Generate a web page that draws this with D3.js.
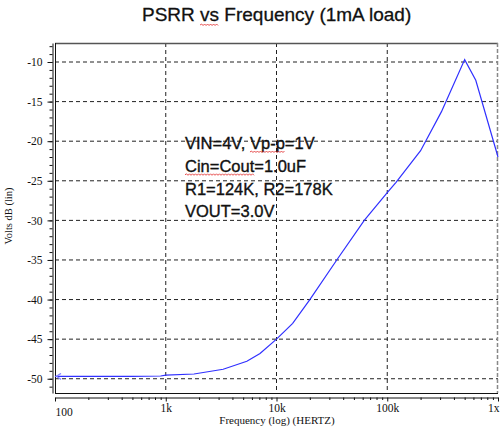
<!DOCTYPE html>
<html>
<head>
<meta charset="utf-8">
<script src="https://cdn.jsdelivr.net/npm/d3@7"></script>
<style>
  body { margin: 0; background: #fff; }
  svg { display: block; }
</style>
</head>
<body>
<div id="chart"></div>
<script>
// data
const freqs = [100, 200, 500, 900, 1000, 1800, 3300, 5400, 7100, 10000,
  14000, 20000, 35000, 62000, 100000, 120000, 200000, 308000, 500000, 630000, 1000000];
const psrr = [-49.7, -49.7, -49.7, -49.65, -49.55, -49.4, -48.8, -47.8, -46.8, -45.0,
  -43.0, -40.0, -35.0, -30.0, -26.5, -25.2, -21.2, -16.3, -9.7, -12.3, -22.0];
const yMajor = [-50, -45, -40, -35, -30, -25, -20, -15, -10];
const xMajor = [100, 1000, 10000, 100000, 1000000];
const xLabels = ["100", "1k", "10k", "100k", "1x"];
const notes = ["VIN=4V, Vp-p=1V", "Cin=Cout=1.0uF", "R1=124K, R2=178K", "VOUT=3.0V"];

const W = 500, H = 430;
const plot = { left: 55, right: 498, top: 43, bottom: 393 };

const svg = d3.select("#chart").append("svg")
  .attr("width", W).attr("height", H);

const x = d3.scaleLog().domain([100, 1e6]).range([plot.left, plot.right]);
const y = d3.scaleLinear().domain([-51.8, -7.6]).range([plot.bottom, plot.top]);

// title
const title = svg.append("text")
  .attr("x", 142).attr("y", 21)
  .attr("font-family", "Liberation Sans, Arial, sans-serif")
  .attr("font-size", 19)
  .attr("fill", "#111")
  .attr("stroke", "#111").attr("stroke-width", 0.3)
  .text("PSRR vs Frequency (1mA load)");

// grid
const grid = svg.append("g").attr("stroke", "#222").attr("stroke-dasharray", "4,3");
grid.selectAll("line.h").data(yMajor).enter().append("line")
  .attr("x1", plot.left).attr("x2", plot.right)
  .attr("y1", d => y(d)).attr("y2", d => y(d));
grid.selectAll("line.v").data(xMajor.slice(1, 4)).enter().append("line")
  .attr("x1", d => x(d)).attr("x2", d => x(d))
  .attr("y1", plot.top).attr("y2", plot.bottom);

// frame
svg.append("line").attr("x1", plot.left).attr("x2", plot.right)
  .attr("y1", plot.top + 0.5).attr("y2", plot.top + 0.5).attr("stroke", "#555").attr("stroke-width", 1.5);
svg.append("line").attr("x1", plot.left).attr("x2", plot.right)
  .attr("y1", plot.bottom + 0.5).attr("y2", plot.bottom + 0.5).attr("stroke", "#111");
svg.append("line").attr("x1", plot.left + 0.5).attr("x2", plot.left + 0.5)
  .attr("y1", plot.top).attr("y2", plot.bottom).attr("stroke", "#111");
svg.append("line").attr("x1", plot.right - 0.5).attr("x2", plot.right - 0.5)
  .attr("y1", plot.top).attr("y2", plot.bottom)
  .attr("stroke", "#888").attr("stroke-width", 1.5).attr("stroke-dasharray", "4,2");

// y axis
const yAxis = svg.append("g")
  .attr("transform", "translate(52.5,0)")
  .call(d3.axisLeft(y).tickValues(yMajor).tickSize(5).tickSizeOuter(0).tickFormat(d => String(d)));
yAxis.select(".domain").attr("stroke", "#111");
yAxis.selectAll(".tick line").attr("stroke", "#111");
yAxis.selectAll("text")
  .attr("font-family", "Liberation Serif, Times New Roman, serif")
  .attr("font-size", 11.5).attr("fill", "#111").attr("x", -10);
yAxis.selectAll("line.minor").data(d3.range(-51, -7)).enter().append("line")
  .attr("class", "minor")
  .attr("x1", -3).attr("x2", 0)
  .attr("y1", d => y(d) + 0.5).attr("y2", d => y(d) + 0.5)
  .attr("stroke", "#111");

// x axis
const minors = [];
xMajor.slice(0, 4).forEach(dec => { for (let k = 2; k < 10; k++) minors.push(dec * k); });
const xAxis = svg.append("g")
  .attr("transform", "translate(0,397.5)")
  .call(d3.axisBottom(x).tickValues(xMajor).tickSize(4).tickSizeOuter(0)
    .tickFormat((d, i) => xLabels[i]));
xAxis.select(".domain").attr("stroke", "#111");
xAxis.selectAll(".tick line").attr("stroke", "#111");
xAxis.selectAll("text")
  .attr("font-family", "Liberation Serif, Times New Roman, serif")
  .attr("font-size", 11.5).attr("fill", "#111").attr("y", 6);
xAxis.selectAll(".tick").filter(d => d === 100).select("text")
  .attr("text-anchor", "start").attr("x", 0).attr("y", 10);
xAxis.selectAll(".tick").filter(d => d === 1e6).select("text")
  .attr("text-anchor", "end").attr("x", 1);
xAxis.selectAll("line.minor").data(minors).enter().append("line")
  .attr("class", "minor")
  .attr("x1", d => x(d) + 0.5).attr("x2", d => x(d) + 0.5)
  .attr("y1", 0).attr("y2", 2.5)
  .attr("stroke", "#111");

// axis titles
svg.append("text")
  .attr("x", 277).attr("y", 424)
  .attr("text-anchor", "middle")
  .attr("font-family", "Liberation Serif, Times New Roman, serif")
  .attr("font-size", 11).attr("fill", "#111")
  .text("Frequency (log) (HERTZ)");
svg.append("text")
  .attr("transform", "translate(12,216) rotate(-90)")
  .attr("text-anchor", "middle")
  .attr("font-family", "Liberation Serif, Times New Roman, serif")
  .attr("font-size", 10.5).attr("fill", "#111")
  .text("Volts dB (lin)");

// annotation block
const noteG = svg.append("g")
  .attr("font-family", "Liberation Sans, Arial, sans-serif")
  .attr("font-size", 16.5).attr("fill", "#111")
  .attr("stroke", "#111").attr("stroke-width", 0.35);
const noteText = noteG.selectAll("text").data(notes).enter().append("text")
  .attr("x", 185).attr("y", (d, i) => 149 + i * 22.8)
  .text(d => d);

// curve
svg.append("defs").append("marker")
  .attr("id", "tip").attr("viewBox", "0 0 6 6")
  .attr("refX", 0).attr("refY", 3)
  .attr("markerWidth", 6).attr("markerHeight", 6)
  .attr("orient", "auto")
  .append("path").attr("d", "M5,0.5 L1,3 L5,5.5")
  .attr("fill", "none").attr("stroke", "#8888ff").attr("stroke-width", 1);

const line = d3.line().x(d => x(d[0])).y(d => y(d[1]));
svg.append("path")
  .datum(d3.zip(freqs, psrr))
  .attr("d", line)
  .attr("fill", "none")
  .attr("stroke", "#3030ff")
  .attr("stroke-width", 1.2)
  .attr("marker-start", "url(#tip)");

// spell-check squiggles under some words
function squiggle(textNode, from, len, dy) {
  const el = textNode.node();
  const start = el.getStartPositionOfChar(from);
  const end = el.getEndPositionOfChar(from + len - 1);
  let d = "M" + start.x + "," + (start.y + dy);
  let up = true;
  for (let px = start.x + 1.5; px <= end.x; px += 1.5) {
    d += "L" + px + "," + (start.y + dy + (up ? -1 : 0.5));
    up = !up;
  }
  svg.append("path").attr("d", d).attr("fill", "none")
    .attr("stroke", "#e02020").attr("stroke-width", 0.8);
}
squiggle(title, 5, 2, 4);
squiggle(d3.select(noteText.nodes()[0]), 8, 4, 3);
squiggle(d3.select(noteText.nodes()[1]), 0, 8, 3);
</script>
</body>
</html>
